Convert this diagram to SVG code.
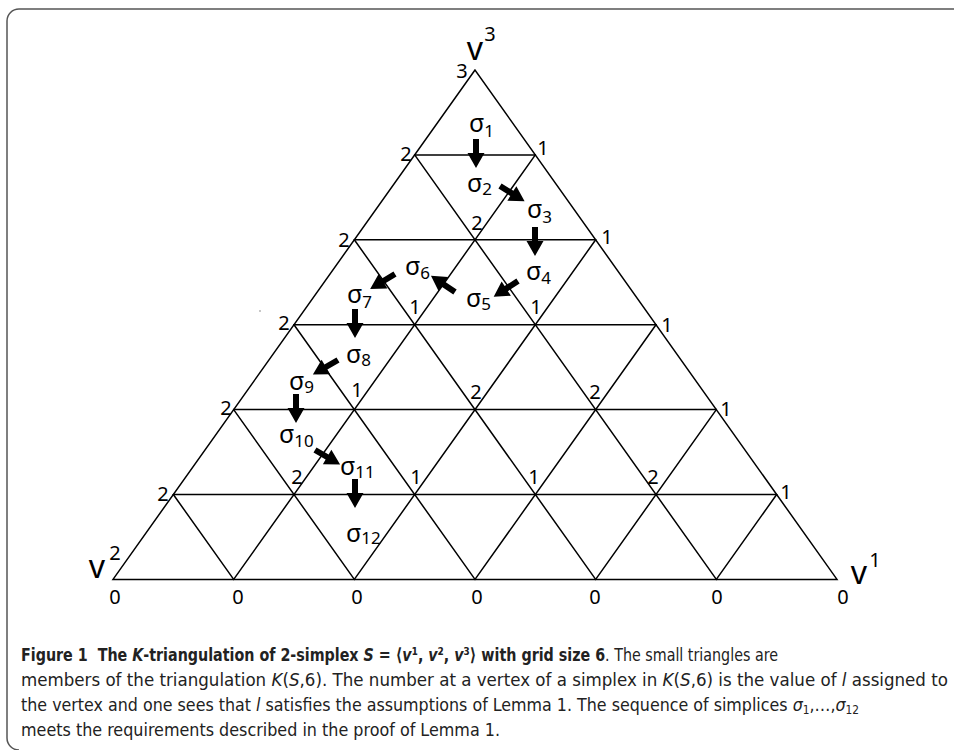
<svg xmlns="http://www.w3.org/2000/svg" xmlns:xlink="http://www.w3.org/1999/xlink" width="954" height="750" viewBox="0 0 954 750">
<style>
.edge{stroke:#000;stroke-width:1.5;fill:none;stroke-linecap:round}
.num{font-family:"Noto Sans","DejaVu Sans",sans-serif;font-size:20px;fill:#000;text-anchor:middle}
.sig{font-family:"Noto Sans","DejaVu Sans",sans-serif;font-size:25px;fill:#000}
.sub{font-size:17px}
.vlab{font-family:"Noto Sans","DejaVu Sans",sans-serif;font-size:32px;fill:#000}
.sup{font-size:20px}
.cap{font-family:"Liberation Sans Narrow","DejaVu Sans Condensed","Liberation Sans",sans-serif;font-size:18px;fill:#222}
.b{font-weight:bold}
.i{font-style:italic}
</style>
<defs>
<polygon id="arr" points="0,-3 14,-3 14,-8.5 29,0 14,8.5 14,3 0,3" fill="#000"/>
</defs>
<rect width="954" height="750" fill="#fff"/>
<path d="M954,9 H19 A12,12 0 0 0 7,21 V738 A12,12 0 0 0 19,750" fill="none" stroke="#555" stroke-width="1.5"/>

<g id="connectors">
<polygon class="edge" points="475,70 113,579.4 837,579.4"/>
<line class="edge" x1="414.67" y1="154.9" x2="535.33" y2="154.9"/>
<line class="edge" x1="354.33" y1="239.8" x2="595.67" y2="239.8"/>
<line class="edge" x1="294" y1="324.7" x2="656" y2="324.7"/>
<line class="edge" x1="233.67" y1="409.6" x2="716.33" y2="409.6"/>
<line class="edge" x1="173.33" y1="494.5" x2="776.67" y2="494.5"/>
<line class="edge" x1="233.67" y1="579.4" x2="535.33" y2="154.9"/>
<line class="edge" x1="354.33" y1="579.4" x2="595.67" y2="239.8"/>
<line class="edge" x1="475" y1="579.4" x2="656" y2="324.7"/>
<line class="edge" x1="595.67" y1="579.4" x2="716.33" y2="409.6"/>
<line class="edge" x1="716.33" y1="579.4" x2="776.67" y2="494.5"/>
<line class="edge" x1="233.67" y1="579.4" x2="173.33" y2="494.5"/>
<line class="edge" x1="354.33" y1="579.4" x2="233.67" y2="409.6"/>
<line class="edge" x1="475" y1="579.4" x2="294" y2="324.7"/>
<line class="edge" x1="595.67" y1="579.4" x2="354.33" y2="239.8"/>
<line class="edge" x1="716.33" y1="579.4" x2="414.67" y2="154.9"/>
<use xlink:href="#arr" transform="translate(476,139) rotate(90)"/>
<use xlink:href="#arr" transform="translate(500,186) rotate(32)"/>
<use xlink:href="#arr" transform="translate(535,227) rotate(90)"/>
<use xlink:href="#arr" transform="translate(518,281) rotate(147)"/>
<use xlink:href="#arr" transform="translate(455,292) rotate(214)"/>
<use xlink:href="#arr" transform="translate(395,274) rotate(149)"/>
<use xlink:href="#arr" transform="translate(355,309) rotate(90)"/>
<use xlink:href="#arr" transform="translate(338,360) rotate(150)"/>
<use xlink:href="#arr" transform="translate(296,394) rotate(90)"/>
<use xlink:href="#arr" transform="translate(315,450) rotate(30)"/>
<use xlink:href="#arr" transform="translate(355,479) rotate(90)"/>
</g>

<g id="corner-labels">
<text class="vlab" x="475" y="60" text-anchor="middle">v</text><text class="vlab sup" x="490" y="41" text-anchor="middle">3</text>
<text class="vlab" x="97" y="578" text-anchor="middle">v</text><text class="vlab sup" x="115" y="560" text-anchor="middle">2</text>
<text class="vlab" x="859" y="584" text-anchor="middle">v</text><text class="vlab sup" x="875" y="567" text-anchor="middle">1</text>
</g>

<g id="vertex-values">
<text class="num" x="462" y="78">3</text>
<text class="num" x="406" y="161">2</text>
<text class="num" x="543" y="155">1</text>
<text class="num" x="344" y="247">2</text>
<text class="num" x="477" y="230">2</text>
<text class="num" x="607" y="244">1</text>
<text class="num" x="284" y="330">2</text>
<text class="num" x="415" y="314">1</text>
<text class="num" x="536" y="314">1</text>
<text class="num" x="667" y="332">1</text>
<text class="num" x="226" y="415">2</text>
<text class="num" x="357" y="397">1</text>
<text class="num" x="476" y="399">2</text>
<text class="num" x="595" y="399">2</text>
<text class="num" x="726" y="416">1</text>
<text class="num" x="163" y="501">2</text>
<text class="num" x="297" y="484">2</text>
<text class="num" x="416" y="484">1</text>
<text class="num" x="534" y="484">1</text>
<text class="num" x="653" y="484">2</text>
<text class="num" x="786" y="499">1</text>
<text class="num" x="115" y="604">0</text>
<text class="num" x="238" y="604">0</text>
<text class="num" x="357" y="604">0</text>
<text class="num" x="477" y="604">0</text>
<text class="num" x="595" y="604">0</text>
<text class="num" x="717" y="604">0</text>
<text class="num" x="843" y="604">0</text>
</g>

<g id="sigma-labels">
<text class="sig" x="469" y="132">σ<tspan class="sub" dy="5">1</tspan></text>
<text class="sig" x="467" y="192">σ<tspan class="sub" dy="3">2</tspan></text>
<text class="sig" x="527" y="218">σ<tspan class="sub" dy="5">3</tspan></text>
<text class="sig" x="526" y="280">σ<tspan class="sub" dy="4">4</tspan></text>
<text class="sig" x="466" y="307">σ<tspan class="sub" dy="3">5</tspan></text>
<text class="sig" x="405" y="275">σ<tspan class="sub" dy="4">6</tspan></text>
<text class="sig" x="347" y="303">σ<tspan class="sub" dy="5">7</tspan></text>
<text class="sig" x="346" y="363">σ<tspan class="sub" dy="3">8</tspan></text>
<text class="sig" x="289" y="390">σ<tspan class="sub" dy="3">9</tspan></text>
<text class="sig" x="279" y="443">σ<tspan class="sub" dy="4">10</tspan></text>
<text class="sig" x="340" y="475">σ<tspan class="sub" dy="3">11</tspan></text>
<text class="sig" x="346" y="542">σ<tspan class="sub" dy="2">12</tspan></text>
</g>
<circle cx="260" cy="311" r="0.7" fill="#666"/>

<g id="caption">
<text class="cap" x="21" y="661" textLength="757" lengthAdjust="spacingAndGlyphs"><tspan class="b">Figure 1&#160; The </tspan><tspan class="b i">K</tspan><tspan class="b">-triangulation of 2-simplex </tspan><tspan class="b i">S</tspan><tspan class="b"> = ⟨</tspan><tspan class="b i">v</tspan><tspan class="b">¹, </tspan><tspan class="b i">v</tspan><tspan class="b">², </tspan><tspan class="b i">v</tspan><tspan class="b">³⟩ with grid size 6</tspan>. The small triangles are</text>
<text class="cap" x="21" y="686" textLength="927" lengthAdjust="spacingAndGlyphs">members of the triangulation <tspan class="i">K</tspan>(<tspan class="i">S</tspan>,6). The number at a vertex of a simplex in <tspan class="i">K</tspan>(<tspan class="i">S</tspan>,6) is the value of <tspan class="i">l</tspan> assigned to</text>
<text class="cap" x="21" y="711" textLength="838" lengthAdjust="spacingAndGlyphs">the vertex and one sees that <tspan class="i">l</tspan> satisfies the assumptions of Lemma 1. The sequence of simplices <tspan class="i">σ</tspan><tspan font-size="12" dy="3">1</tspan><tspan dy="-3">,…,</tspan><tspan class="i">σ</tspan><tspan font-size="12" dy="3">12</tspan></text>
<text class="cap" x="21" y="736" textLength="479" lengthAdjust="spacingAndGlyphs">meets the requirements described in the proof of Lemma 1.</text>
</g>
</svg>
